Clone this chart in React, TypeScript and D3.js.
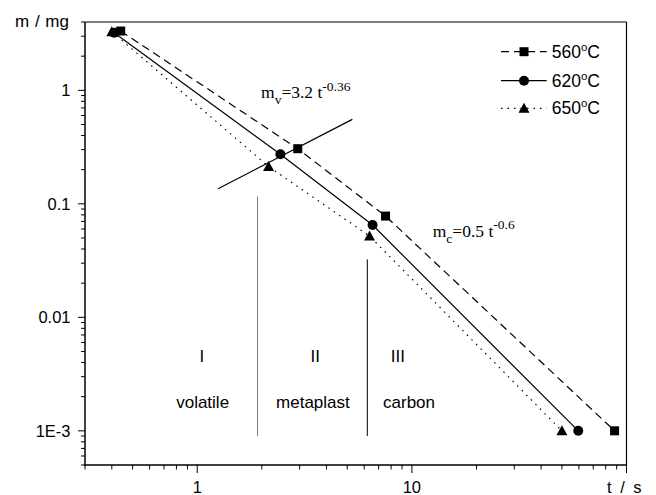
import React from "react";
import * as d3 from "d3";

const t560 = [0.44, 2.94, 7.54, 88];
const m560 = [3.33, 0.306, 0.078, 0.001];
const t620 = [0.41, 2.44, 6.56, 59.6];
const m620 = [3.22, 0.273, 0.065, 0.001];
const t650 = [0.4, 2.15, 6.35, 50];
const m650 = [3.29, 0.213, 0.052, 0.001];

const fitT = [1.25, 5.28];
const fitM = [0.136, 0.555];

const boundT = [1.91, 6.2];
const boundTop = [0.116, 0.0324];
const boundBottom = 0.0009;

const xMajor = [1, 10];
const xMajorLabels = ["1", "10"];
const yMajor = [1, 0.1, 0.01, 0.001];
const yMajorLabels = ["1", "0.1", "0.01", "1E-3"];

const regions = ["I", "II", "III"];
const regionNames = ["volatile", "metaplast", "carbon"];
const regionT = [1.05, 3.55, 8.6];
const regionNameT = [1.06, 3.46, 9.7];

const legendNames = ["560", "620", "650"];

const W = 656;
const H = 495;
const X0 = 85, X1 = 626.5, Y0 = 465, Y1 = 22;

export default function App() {
  const x = d3.scaleLog().domain([0.3, 100]).range([X0, X1]);
  const y = d3.scaleLog().domain([5e-4, 4]).range([Y0, Y1]);

  const xMinor: number[] = [];
  [0.1, 1, 10].forEach((d) => {
    for (let k = 1; k <= 9; k++) {
      const v = d * k;
      if (v >= 0.3 - 1e-9 && v <= 100 + 1e-9) xMinor.push(v);
    }
  });
  xMinor.push(100);
  const yMinor: number[] = [];
  [1e-4, 1e-3, 1e-2, 0.1, 1].forEach((d) => {
    for (let k = 1; k <= 9; k++) {
      const v = d * k;
      if (v >= 5e-4 - 1e-12 && v <= 4 + 1e-9) yMinor.push(v);
    }
  });

  const line = d3
    .line<[number, number]>()
    .x((d) => x(d[0]))
    .y((d) => y(d[1]));

  const series = [
    { t: t560, m: m560, dash: "8,5", marker: "square" },
    { t: t620, m: m620, dash: "", marker: "circle" },
    { t: t650, m: m650, dash: "1.5,5", marker: "triangle" },
  ];

  const marker = (kind: string, cx: number, cy: number, key: string) => {
    if (kind === "square")
      return <rect key={key} x={cx - 4.5} y={cy - 4.5} width={9} height={9} fill="#000" />;
    if (kind === "circle") return <circle key={key} cx={cx} cy={cy} r={5} fill="#000" />;
    return (
      <path
        key={key}
        d={`M${cx},${cy - 5.5}L${cx + 5.5},${cy + 4.5}L${cx - 5.5},${cy + 4.5}Z`}
        fill="#000"
      />
    );
  };

  const sans = "'Liberation Sans', Arial, Helvetica, sans-serif";
  const serif = "'Liberation Serif', 'Times New Roman', serif";

  const isMajorX = (v: number) => xMajor.some((m) => Math.abs(m - v) < 1e-9) || Math.abs(v - 100) < 1e-9;
  const isMajorY = (v: number) => yMajor.some((m) => Math.abs(m - v) / m < 1e-6);

  const legendY = [51.7, 80.7, 108.3];

  return (
    <svg
      width={W}
      height={H}
      style={{ position: "absolute", left: 0, top: 0, background: "#fff" }}
      fontFamily={sans}
    >
      <rect x={0} y={0} width={W} height={H} fill="#fff" />
      {/* frame */}
      <line x1={X0} y1={Y1} x2={X1} y2={Y1} stroke="#000" strokeWidth={1.2} />
      <line x1={X1} y1={Y1} x2={X1} y2={Y0} stroke="#000" strokeWidth={1.2} />
      <line x1={X0} y1={Y1} x2={X0} y2={Y0 + 0.7} stroke="#000" strokeWidth={1.5} />
      <line x1={X0 - 0.7} y1={Y0} x2={X1} y2={Y0} stroke="#000" strokeWidth={1.5} />

      {/* x ticks */}
      {xMinor.map((v, i) => (
        <line
          key={"xt" + i}
          x1={x(v)}
          x2={x(v)}
          y1={Y0}
          y2={Y0 + (isMajorX(v) ? 8 : 4.5)}
          stroke="#000"
          strokeWidth={1}
        />
      ))}
      {xMajor.map((v, i) => (
        <text key={"xl" + i} x={x(v)} y={493} textAnchor="middle" fontSize={16.5}>
          {xMajorLabels[i]}
        </text>
      ))}
      <text x={607} y={493} fontSize={16.5} style={{ wordSpacing: "4px" }}>
        t / s
      </text>

      {/* y ticks */}
      {yMinor.map((v, i) => (
        <line
          key={"yt" + i}
          x1={X0 - (isMajorY(v) ? 7 : 4)}
          x2={X0}
          y1={y(v)}
          y2={y(v)}
          stroke="#000"
          strokeWidth={1}
        />
      ))}
      {yMajor.map((v, i) => (
        <text key={"yl" + i} x={70.5} y={y(v) + 5.8} textAnchor="end" fontSize={16.5}>
          {yMajorLabels[i]}
        </text>
      ))}
      <text x={15} y={26.7} fontSize={17} style={{ wordSpacing: "1px" }}>
        m / mg
      </text>

      {/* boundaries */}
      <line
        x1={x(boundT[0])}
        x2={x(boundT[0])}
        y1={y(boundTop[0])}
        y2={y(boundBottom)}
        stroke="#777"
        strokeWidth={1}
      />
      <line
        x1={x(boundT[1])}
        x2={x(boundT[1])}
        y1={y(boundTop[1])}
        y2={y(boundBottom)}
        stroke="#000"
        strokeWidth={1}
      />

      {/* fit line */}
      <path
        d={line([
          [fitT[0], fitM[0]],
          [fitT[1], fitM[1]],
        ]) || ""}
        stroke="#000"
        strokeWidth={1.2}
        fill="none"
      />

      {/* series */}
      {series.map((s, si) => (
        <g key={"s" + si}>
          <path
            d={line(s.t.map((t, i) => [t, s.m[i]] as [number, number])) || ""}
            fill="none"
            stroke="#000"
            strokeWidth={1.2}
            strokeDasharray={s.dash || undefined}
          />
          {s.t.map((t, i) => marker(s.marker, x(t), y(s.m[i]), `m${si}-${i}`))}
        </g>
      ))}

      {/* region labels */}
      {regions.map((r, i) => (
        <text key={"r" + i} x={x(regionT[i])} y={362} textAnchor="middle" fontSize={17}>
          {r}
        </text>
      ))}
      {regionNames.map((r, i) => (
        <text key={"rn" + i} x={x(regionNameT[i])} y={408} textAnchor="middle" fontSize={17}>
          {r}
        </text>
      ))}

      {/* equations */}
      <text x={261} y={98} fontFamily={serif} fontSize={17.5}>
        m
        <tspan dy={6} fontSize={13.5}>v</tspan>
        <tspan dy={-6}>=3.2 t</tspan>
        <tspan dy={-7.5} fontSize={13.5}>-0.36</tspan>
      </text>
      <text x={432.7} y={236.7} fontFamily={serif} fontSize={17.5}>
        m
        <tspan dy={6} fontSize={13.5}>c</tspan>
        <tspan dy={-6}>=0.5 t</tspan>
        <tspan dy={-7.5} fontSize={13.5}>-0.6</tspan>
      </text>

      {/* legend */}
      {series.map((s, i) => (
        <g key={"lg" + i}>
          <line
            x1={501}
            x2={546.7}
            y1={legendY[i]}
            y2={legendY[i]}
            stroke="#000"
            strokeWidth={1.2}
            strokeDasharray={s.dash || undefined}
          />
          {marker(s.marker, 524, legendY[i], "lm" + i)}
          <text x={551.7} y={legendY[i] + 5.8} fontSize={17.5}>
            {legendNames[i]}
            <tspan dy={-7} fontSize={11.5}>o</tspan>
            <tspan dy={7}>C</tspan>
          </text>
        </g>
      ))}
    </svg>
  );
}
